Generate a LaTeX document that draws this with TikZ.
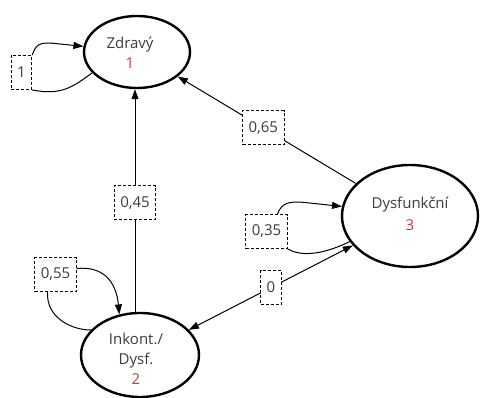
\documentclass[tikz,border=0pt]{standalone}
\usepackage{fontspec}
\setmainfont{Open Sans}
\usetikzlibrary{shapes.geometric,arrows.meta}
\definecolor{txt}{RGB}{60,60,60}
\definecolor{numred}{RGB}{200,60,60}
\begin{document}
\begin{tikzpicture}[x=1pt,y=-1pt,
  state/.style={ellipse,draw=black,line width=2.4pt,inner sep=0pt},
  statetext/.style={align=center,inner sep=0pt,text=txt,font=\fontsize{15}{20}\selectfont},
  prob/.style={draw=black,dash pattern=on 3pt off 2pt,line width=0.9pt,fill=white,
    inner xsep=6pt,inner ysep=0pt,minimum height=34pt,text=txt,
    font=\fontsize{15}{18}\selectfont},
  edgeline/.style={line width=1pt,draw=black},
  arrowed/.style={-{Triangle[length=10pt,width=7pt]}},
  twoway/.style={{Triangle[length=10pt,width=7pt]}-{Triangle[length=10pt,width=7pt]}},
]
\useasboundingbox (0,0) rectangle (481,398);

% states
\node[state,minimum width=106pt,minimum height=72pt] (z) at (137,52) {};
\node[statetext] (zt) at (130,53) {Zdravý\\\textcolor{numred}{1}};
\node[state,minimum width=136pt,minimum height=102pt] (d) at (410,216) {};
\node[statetext,font=\fontsize{15}{22}\selectfont] (dt) at (410,214) {Dysfunkční\\\textcolor{numred}{3}};
\node[state,minimum width=118pt,minimum height=84pt] (i) at (140,355) {};
\node[statetext] (it) at (136,359) {Inkont./\\Dysf.\\\textcolor{numred}{2}};

% self loops
\node[prob] (b1) at (21.5,72.5) {1};
\draw[edgeline,arrowed] (b1.north east) .. controls (36,44) and (40,43) .. (50,43) -- (z.174);
\draw[edgeline] (b1.south east) .. controls (62,96) and (74,86) .. (z.205);

\node[prob] (b55) at (55.5,274.5) {0,55};
\draw[edgeline,arrowed] ([yshift=6pt]b55.east) .. controls (102,266) and (116,280) .. (i.117);
\draw[edgeline] ([xshift=-8pt]b55.south) .. controls (46,318) and (72,330) .. (i.153);

\node[prob] (b35) at (266.5,231.5) {0,35};
\draw[edgeline,arrowed] ([xshift=11pt]b35.north) .. controls (282,202) and (290,202) .. (300,202) -- (d.172);
\draw[edgeline] (b35.south east) .. controls (300,256) and (320,256) .. (d.203);

% transitions between states
\draw[edgeline,arrowed] (d) -- node[prob,pos=0.52] (b65) {0,65} (z);
\coordinate (col) at (135,200);
\draw[edgeline,arrowed] (i.north -| col) -- node[prob,pos=0.49] (b45) {0,45} (z.south -| col);
\draw[edgeline,twoway] (i) -- node[prob] (b0) {0} (d);
\end{tikzpicture}
\end{document}
